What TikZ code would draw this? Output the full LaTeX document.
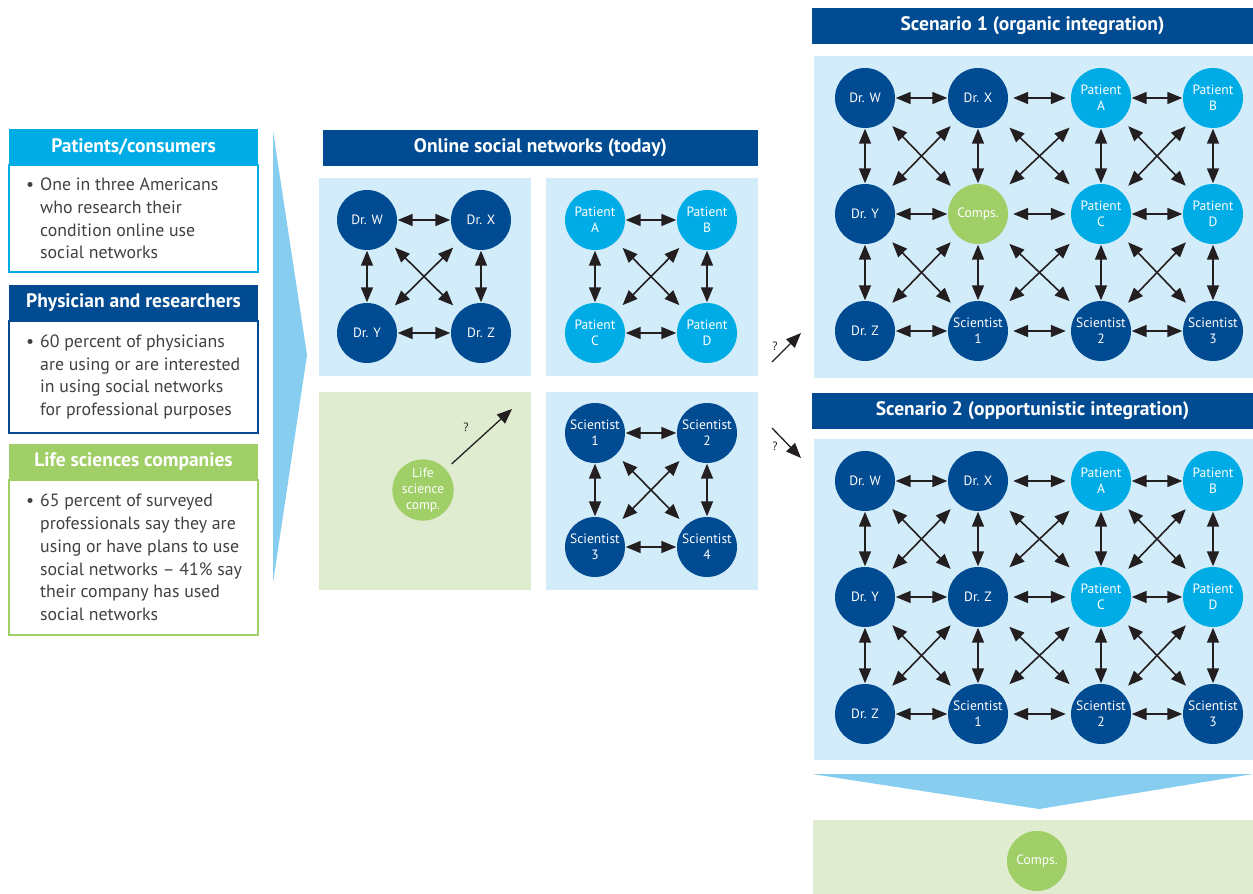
\documentclass[tikz,border=0pt]{standalone}
\usepackage{fontspec}
\setmainfont{PT Sans}
\usetikzlibrary{arrows.meta, positioning, calc}
\definecolor{navy}{RGB}{0, 75, 145}
\definecolor{cyanblue}{RGB}{0, 172, 230}
\definecolor{leafgreen}{RGB}{160, 206, 103}
\definecolor{paleblue}{RGB}{211, 236, 249}
\definecolor{palegreen}{RGB}{223, 236, 208}
\definecolor{chevblue}{RGB}{135, 205, 240}
\definecolor{bodygray}{RGB}{65, 65, 65}
\definecolor{linkgray}{RGB}{35, 31, 32}

\begin{document}
\begin{tikzpicture}[
  x=1pt, y=-1pt,
  hdr/.style={minimum height=36pt, inner sep=0pt, outer sep=0pt, text=white,
              font=\bfseries\fontsize{19.5}{22}\selectfont},
  card/.style={draw, line width=1.5pt, fill=white, minimum width=249pt,
               inner sep=0pt, outer sep=0pt, anchor=north west},
  cardtxt/.style={text=bodygray, align=left, inner sep=0pt,
                  font=\fontsize{17.8}{22.7}\selectfont},
  dr/.style={circle, fill=navy, minimum size=60pt, inner sep=0pt, text=white,
             align=center, font=\fontsize{13.5}{16}\selectfont},
  pat/.style={dr, fill=cyanblue},
  comp/.style={dr, fill=leafgreen},
  link/.style={{Triangle[length=15pt,width=12pt]}-{Triangle[length=15pt,width=12pt]},
               line width=1.6pt, linkgray, shorten <=0.5pt, shorten >=0.5pt},
  wlink/.style={link, shorten <=5pt, shorten >=5pt},
  diag/.style={link, shorten <=9pt, shorten >=9pt},
  wdiag/.style={link, shorten <=13pt, shorten >=13pt},
  ask/.style={-{Triangle[length=15pt,width=12pt]}, line width=1.3pt, linkgray},
  qmark/.style={text=linkgray, inner sep=0pt, font=\fontsize{12}{12}\selectfont},
]
\useasboundingbox (0,0) rectangle (1253,894);

% Who is online
\node[hdr, fill=cyanblue, minimum width=249pt, anchor=north west] (hdrpat) at (9,129) {Patients/consumers};
\node[card, draw=cyanblue, minimum height=107pt] (boxpat) at (hdrpat.south west) {};
\node[cardtxt, right=31pt of boxpat.west] (txtpat)
     {\llap{\textbullet\hspace{6pt}}One in three Americans\\who research their\\condition online use\\social networks};

\node[hdr, fill=navy, minimum width=249pt, anchor=north west] (hdrphy) at (9,285) {Physician and researchers};
\node[card, draw=navy, minimum height=112pt] (boxphy) at (hdrphy.south west) {};
\node[cardtxt, right=31pt of boxphy.west] (txtphy)
     {\llap{\textbullet\hspace{6pt}}60 percent of physicians\\are using or are interested\\in using social networks\\for professional purposes};

\node[hdr, fill=leafgreen, minimum width=249pt, anchor=north west] (hdrlsc) at (9,444) {Life sciences companies};
\node[card, draw=leafgreen, minimum height=155pt] (boxlsc) at (hdrlsc.south west) {};
\node[cardtxt, right=31pt of boxlsc.west] (txtlsc)
     {\llap{\textbullet\hspace{6pt}}65 percent of surveyed\\professionals say they are\\using or have plans to use\\social networks -- 41\% say\\their company has used\\social networks};

\fill[chevblue] (273,131) -- (307,355) -- (273,583) -- cycle;

% Online social networks (today)
\node[hdr, fill=navy, minimum width=435pt, anchor=north west] (hdrtoday) at (323,130) {Online social networks (today)};
\fill[paleblue] (319,178) rectangle (531,376);
\fill[paleblue] (546,178) rectangle (758,376);
\fill[palegreen] (319,392) rectangle (531,590);
\fill[paleblue] (546,392) rectangle (758,590);

\node[dr] (drw) at (367,220) {Dr. W};
\node[dr] (drx) at (481,220) {Dr. X};
\node[dr] (dry) at (367,333) {Dr. Y};
\node[dr] (drz) at (481,333) {Dr. Z};
\node[pat] (pa) at (595,220) {Patient\\A};
\node[pat] (pb) at (707,220) {Patient\\B};
\node[pat] (pc) at (595,333) {Patient\\C};
\node[pat] (pd) at (707,333) {Patient\\D};
\node[dr] (sc1) at (595,433) {Scientist\\1};
\node[dr] (sc2) at (707,433) {Scientist\\2};
\node[dr] (sc3) at (595,547) {Scientist\\3};
\node[dr] (sc4) at (707,547) {Scientist\\4};
\node[comp] (lsc) at (423,490) {Life\\science\\comp.};

\foreach \a/\b in {drw/drx, dry/drz, drw/dry, drx/drz, pa/pb, pc/pd, pa/pc, pb/pd,
                   sc1/sc2, sc3/sc4, sc1/sc3, sc2/sc4}
  \draw[link] (\a) -- (\b);
\foreach \a/\b in {drw/drz, drx/dry, pa/pd, pb/pc, sc1/sc4, sc2/sc3}
  \draw[diag] (\a) -- (\b);

\coordinate (lscto) at (512,409);
\draw[ask, shorten <=8pt] (lsc) -- (lscto);
\node[qmark] (lscq) at (466,427) {?};

% Towards the scenarios
\coordinate (upfrom) at (772,362);
\coordinate (upto) at (801,333);
\draw[ask] (upfrom) -- (upto);
\node[qmark] (upq) at (775,346) {?};
\coordinate (downfrom) at (772,428);
\coordinate (downto) at (801,458);
\draw[ask] (downfrom) -- (downto);
\node[qmark] (downq) at (775,446) {?};

% Scenario 1
\node[hdr, fill=navy, minimum width=441pt, anchor=north west] (hdrone) at (812,8) {Scenario 1 (organic integration)};
\fill[paleblue] (814,56) rectangle (1253,378);

\node[dr] (s1drw) at (865,98) {Dr. W};
\node[dr] (s1drx) at (978,98) {Dr. X};
\node[pat] (s1pa) at (1101,98) {Patient\\A};
\node[pat] (s1pb) at (1213,98) {Patient\\B};
\node[dr] (s1dry) at (865,214) {Dr. Y};
\node[comp] (s1comp) at (978,214) {Comps.};
\node[pat] (s1pc) at (1101,214) {Patient\\C};
\node[pat] (s1pd) at (1213,214) {Patient\\D};
\node[dr] (s1drz) at (865,331) {Dr. Z};
\node[dr] (s1sc1) at (978,331) {Scientist\\1};
\node[dr] (s1sc2) at (1101,331) {Scientist\\2};
\node[dr] (s1sc3) at (1213,331) {Scientist\\3};

\foreach \a/\b in {s1drw/s1drx, s1pa/s1pb, s1dry/s1comp, s1pc/s1pd, s1drz/s1sc1, s1sc2/s1sc3,
                   s1drw/s1dry, s1dry/s1drz, s1drx/s1comp, s1comp/s1sc1, s1pa/s1pc,
                   s1pc/s1sc2, s1pb/s1pd, s1pd/s1sc3}
  \draw[link] (\a) -- (\b);
\foreach \a/\b in {s1drx/s1pa, s1comp/s1pc, s1sc1/s1sc2}
  \draw[wlink] (\a) -- (\b);
\foreach \a/\b in {s1drw/s1comp, s1drx/s1dry, s1pa/s1pd, s1pb/s1pc,
                   s1dry/s1sc1, s1comp/s1drz, s1pc/s1sc3, s1pd/s1sc2}
  \draw[diag] (\a) -- (\b);
\foreach \a/\b in {s1drx/s1pc, s1pa/s1comp, s1comp/s1sc2, s1pc/s1sc1}
  \draw[wdiag] (\a) -- (\b);

% Scenario 2
\node[hdr, fill=navy, minimum width=441pt, anchor=north west] (hdrtwo) at (812,393) {Scenario 2 (opportunistic integration)};
\fill[paleblue] (814,439) rectangle (1253,760);

\node[dr] (s2drw) at (865,481) {Dr. W};
\node[dr] (s2drx) at (978,481) {Dr. X};
\node[pat] (s2pa) at (1101,481) {Patient\\A};
\node[pat] (s2pb) at (1213,481) {Patient\\B};
\node[dr] (s2dry) at (865,597) {Dr. Y};
\node[dr] (s2drz) at (978,597) {Dr. Z};
\node[pat] (s2pc) at (1101,597) {Patient\\C};
\node[pat] (s2pd) at (1213,597) {Patient\\D};
\node[dr] (s2drzb) at (865,714) {Dr. Z};
\node[dr] (s2sc1) at (978,714) {Scientist\\1};
\node[dr] (s2sc2) at (1101,714) {Scientist\\2};
\node[dr] (s2sc3) at (1213,714) {Scientist\\3};

\foreach \a/\b in {s2drw/s2drx, s2pa/s2pb, s2dry/s2drz, s2pc/s2pd, s2drzb/s2sc1, s2sc2/s2sc3,
                   s2drw/s2dry, s2dry/s2drzb, s2drx/s2drz, s2drz/s2sc1, s2pa/s2pc,
                   s2pc/s2sc2, s2pb/s2pd, s2pd/s2sc3}
  \draw[link] (\a) -- (\b);
\foreach \a/\b in {s2drx/s2pa, s2drz/s2pc, s2sc1/s2sc2}
  \draw[wlink] (\a) -- (\b);
\foreach \a/\b in {s2drw/s2drz, s2drx/s2dry, s2pa/s2pd, s2pb/s2pc,
                   s2dry/s2sc1, s2drz/s2drzb, s2pc/s2sc3, s2pd/s2sc2}
  \draw[diag] (\a) -- (\b);
\foreach \a/\b in {s2drx/s2pc, s2pa/s2drz, s2drz/s2sc2, s2pc/s2sc1}
  \draw[wdiag] (\a) -- (\b);

% Outcome
\fill[chevblue] (812,774) -- (1253,774) -- (1039,809) -- cycle;
\fill[palegreen] (813,820) rectangle (1253,894);
\node[comp] (endcomp) at (1037,861) {Comps.};
\end{tikzpicture}
\end{document}
